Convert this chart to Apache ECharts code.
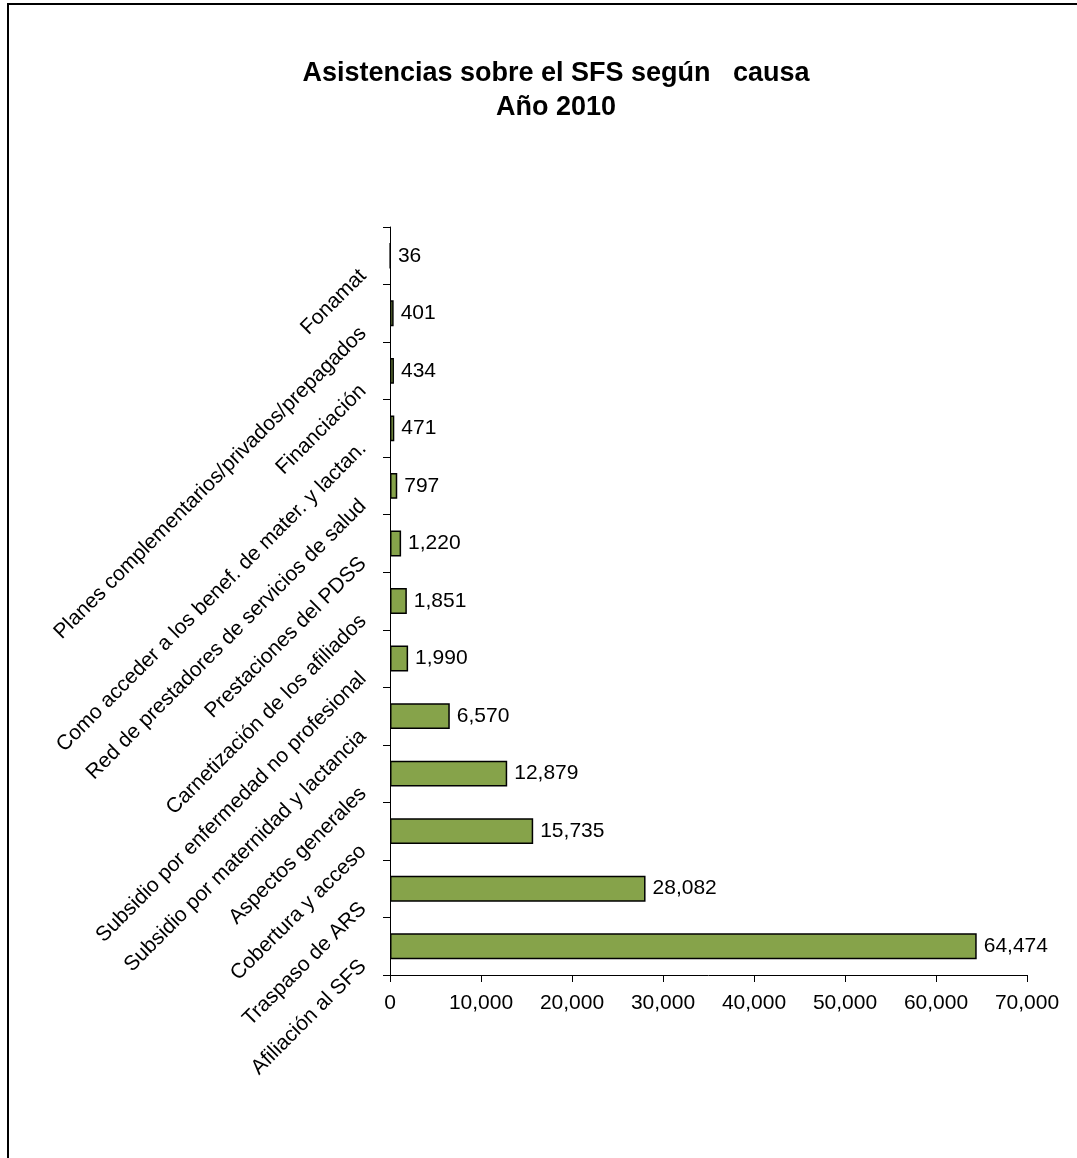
<!DOCTYPE html>
<html>
<head>
<meta charset="utf-8">
<script src="https://cdn.jsdelivr.net/npm/echarts@6/dist/echarts.min.js"></script>
<style>
html,body{margin:0;padding:0;background:#fff;}
#chart{width:1077px;height:1158px;}
</style>
</head>
<body>
<div id="chart"></div>
<script>
// Categories listed bottom-to-top
const categories = [
  "Afiliación al SFS",
  "Traspaso de ARS",
  "Cobertura y acceso",
  "Aspectos generales",
  "Subsidio por maternidad y lactancia",
  "Subsidio por enfermedad no profesional",
  "Carnetización de los afiliados",
  "Prestaciones del PDSS",
  "Red de prestadores de servicios de salud",
  "Como acceder a los benef. de mater. y lactan.",
  "Financiación",
  "Planes complementarios/privados/prepagados",
  "Fonamat"
];
const values = [64474, 28082, 15735, 12879, 6570, 1990, 1851, 1220, 797, 471, 434, 401, 36];
const xTicks = [0, 10000, 20000, 30000, 40000, 50000, 60000, 70000];
const titleLines = ["Asistencias sobre el SFS según   causa", "Año 2010"];

const FONT = 'Arial, "Liberation Sans", sans-serif';
const fmt = v => Number(v).toLocaleString('en-US');

const chart = echarts.init(document.getElementById('chart'));
chart.setOption({
  backgroundColor: '#fff',
  animation: false,
  title: {
    text: titleLines.join('\n'),
    left: 551,
    top: 52,
    textAlign: 'center',
    textStyle: { fontFamily: FONT, fontSize: 27, fontWeight: 'bold', color: '#000', lineHeight: 34 }
  },
  graphic: [{
    type: 'rect',
    shape: { x: 8, y: 4, width: 1200, height: 1300 },
    style: { fill: 'none', stroke: '#000', lineWidth: 2 },
    silent: true
  }],
  grid: { left: 390, right: 50, top: 227, bottom: 183, containLabel: false },
  xAxis: {
    type: 'value',
    min: xTicks[0],
    max: xTicks[xTicks.length - 1],
    interval: xTicks[1] - xTicks[0],
    splitLine: { show: false },
    axisLine: { show: true, lineStyle: { color: '#000', width: 1 } },
    axisTick: { show: true, length: 7, lineStyle: { color: '#000' } },
    axisLabel: { fontFamily: FONT, fontSize: 21, color: '#000', margin: 18, formatter: v => fmt(v) }
  },
  yAxis: {
    type: 'category',
    data: categories,
    axisLine: { show: true, lineStyle: { color: '#000', width: 1 } },
    axisTick: { show: true, length: 7, lineStyle: { color: '#000' } },
    splitLine: { show: false },
    axisLabel: { fontFamily: FONT, fontSize: 21, color: '#000', rotate: 45, margin: 10, interval: 0, padding: [30, 24, 0, 0] }
  },
  series: [{
    type: 'bar',
    data: values,
    barWidth: '45%',
    itemStyle: { color: '#86A34A', borderColor: '#000', borderWidth: 1.5 },
    label: {
      show: true, position: 'right', distance: 7,
      fontFamily: FONT, fontSize: 21, color: '#000',
      formatter: p => fmt(p.value)
    }
  }]
});
</script>
</body>
</html>
